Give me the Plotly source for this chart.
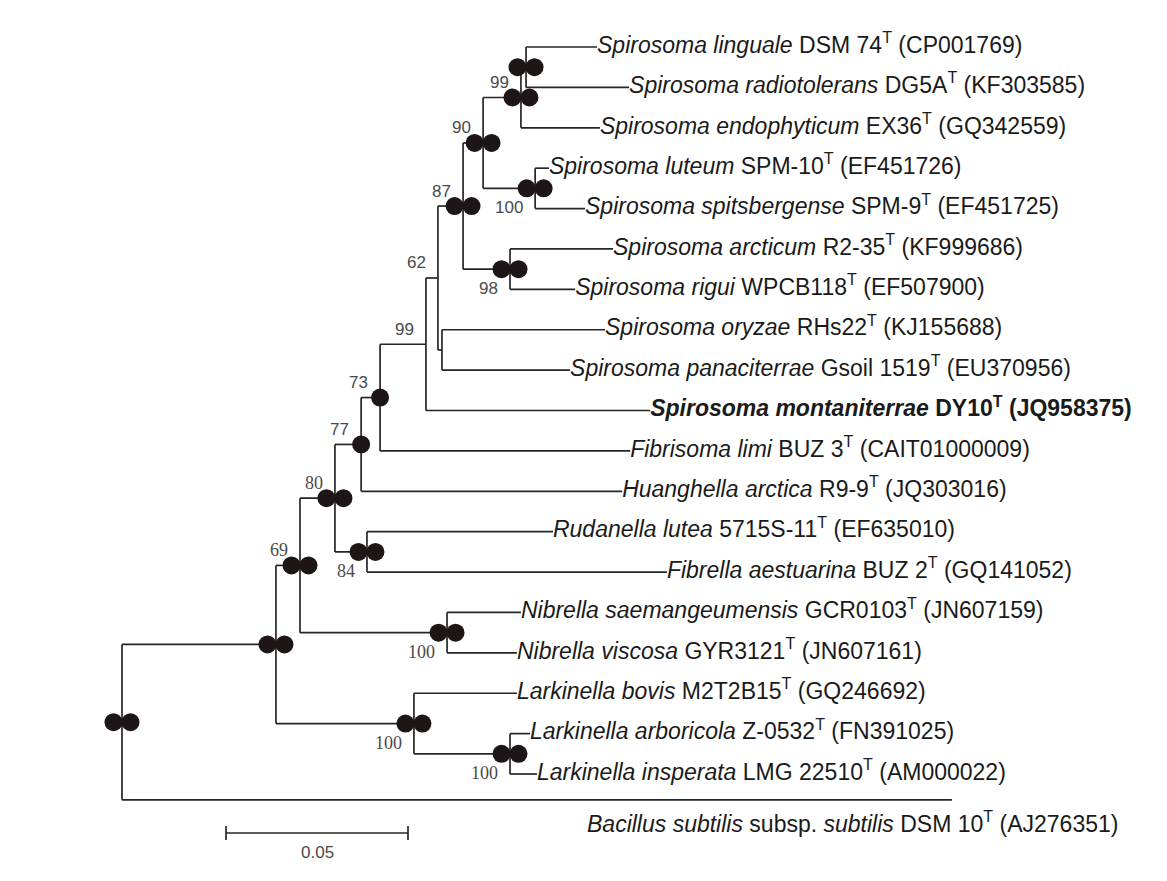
import plotly.graph_objects as go

# ---------------- data ----------------
taxa = [
    "<i>Spirosoma linguale</i> DSM 74<sup>T</sup> (CP001769)",
    "<i>Spirosoma radiotolerans</i> DG5A<sup>T</sup> (KF303585)",
    "<i>Spirosoma endophyticum</i> EX36<sup>T</sup> (GQ342559)",
    "<i>Spirosoma luteum</i> SPM-10<sup>T</sup> (EF451726)",
    "<i>Spirosoma spitsbergense</i> SPM-9<sup>T</sup> (EF451725)",
    "<i>Spirosoma arcticum</i> R2-35<sup>T</sup> (KF999686)",
    "<i>Spirosoma rigui</i> WPCB118<sup>T</sup> (EF507900)",
    "<i>Spirosoma oryzae</i> RHs22<sup>T</sup> (KJ155688)",
    "<i>Spirosoma panaciterrae</i> Gsoil 1519<sup>T</sup> (EU370956)",
    "<b><i>Spirosoma montaniterrae</i> DY10<sup>T</sup> (JQ958375)</b>",
    "<i>Fibrisoma limi</i> BUZ 3<sup>T</sup> (CAIT01000009)",
    "<i>Huanghella arctica</i> R9-9<sup>T</sup> (JQ303016)",
    "<i>Rudanella lutea</i> 5715S-11<sup>T</sup> (EF635010)",
    "<i>Fibrella aestuarina</i> BUZ 2<sup>T</sup> (GQ141052)",
    "<i>Nibrella saemangeumensis</i> GCR0103<sup>T</sup> (JN607159)",
    "<i>Nibrella viscosa</i> GYR3121<sup>T</sup> (JN607161)",
    "<i>Larkinella bovis</i> M2T2B15<sup>T</sup> (GQ246692)",
    "<i>Larkinella arboricola</i> Z-0532<sup>T</sup> (FN391025)",
    "<i>Larkinella insperata</i> LMG 22510<sup>T</sup> (AM000022)",
    "<i>Bacillus subtilis</i> subsp. <i>subtilis</i> DSM 10<sup>T</sup> (AJ276351)",
]
taxon_parent = ["A", "A", "B", "D", "D", "F", "F", "OP", "OP", "I",
                "J", "K", "M", "M", "N", "N", "Q", "P", "P", "root"]
taxon_length = [0.0195, 0.0283, 0.0217, 0.0038, 0.0137, 0.0283, 0.0179,
                0.0448, 0.0352, 0.0616, 0.0687, 0.0717, 0.0511, 0.0824,
                0.0203, 0.0192, 0.0283, 0.0055, 0.0074, 0.2280]

clade_names = ["R", "O", "L", "K", "J", "I", "H", "OP", "E", "C", "B", "A",
               "D", "F", "M", "N", "Q", "P"]
clade_parent = ["root", "R", "O", "L", "K", "J", "I", "H", "H", "E", "C", "B",
                "C", "E", "L", "O", "R", "Q"]
clade_length = [0.0423, 0.0066, 0.0096, 0.0072, 0.0052, 0.0126, 0.0033, 0.0011,
                0.0069, 0.0055, 0.0104, 0.0014, 0.0143, 0.0129, 0.0088, 0.0404,
                0.0379, 0.0264]
clade_support = ["", "69", "80", "77", "73", "99", "62", "", "87", "90", "99", "",
                 "100", "98", "84", "100", "100", "100"]

scale_length = 0.05
scale_label = "0.05"

# ---------------- style ----------------
W, H = 1167, 881
PAGE_OFFSET = 8          # default body margin of the html page
PX_PER_UNIT = 3640.0
ROOT_PX = 122 - PAGE_OFFSET
ROW_PX = 40.39
TOP_PX = 47 - PAGE_OFFSET
OUTGROUP_GAP = 0.64
double_dot = {"root", "R", "O", "L", "M", "N", "Q", "P", "E", "C", "B", "A", "D", "F"}
single_dot = {"J", "K"}
below_label = {"D", "F", "M", "N", "Q", "P"}
serif_label = {"O", "L", "M", "N", "Q", "P"}
LINE_COLOR = "#262626"
DOT_COLOR = "#1e1616"
LEAF_FONT = dict(family="Liberation Sans, Arial", size=23, color="#1a1a1a")

# ---------------- tree layout ----------------
parent = {}
length = {}
for n, p, l in zip(taxa, taxon_parent, taxon_length):
    parent[n], length[n] = p, l
for n, p, l in zip(clade_names, clade_parent, clade_length):
    parent[n], length[n] = p, l
children = {}
for n, p in parent.items():
    children.setdefault(p, []).append(n)

depth = {"root": 0.0}
def get_depth(n):
    if n not in depth:
        depth[n] = get_depth(parent[n]) + length[n]
    return depth[n]
for n in parent:
    get_depth(n)

ypos = {}
for i, t in enumerate(taxa):
    ypos[t] = i if i < len(taxa) - 1 else (len(taxa) - 2) + OUTGROUP_GAP
def get_y(n):
    if n not in ypos:
        ys = [get_y(c) for c in children[n]]
        ypos[n] = (min(ys) + max(ys)) / 2.0
    return ypos[n]
get_y("root")

bx, by = [], []
for n in parent:
    bx += [depth[parent[n]], depth[n], None]
    by += [ypos[n], ypos[n], None]
for n, ch in children.items():
    ys = [ypos[c] for c in ch]
    bx += [depth[n], depth[n], None]
    by += [min(ys), max(ys), None]

fig = go.Figure()
fig.add_trace(go.Scatter(x=bx, y=by, mode="lines",
                         line=dict(color=LINE_COLOR, width=1.7),
                         hoverinfo="skip", showlegend=False))

# dots
off = 8.5 / PX_PER_UNIT
dx, dy = [], []
for n in ["root"] + clade_names:
    if n in double_dot:
        dx += [depth[n] - off, depth[n] + off]
        dy += [ypos[n], ypos[n]]
    elif n in single_dot:
        dx.append(depth[n])
        dy.append(ypos[n])
fig.add_trace(go.Scatter(x=dx, y=dy, mode="markers",
                         marker=dict(color=DOT_COLOR, size=18, line=dict(width=0)),
                         hoverinfo="skip", showlegend=False))

# leaf labels
main_taxa = taxa[:-1]
fig.add_trace(go.Scatter(x=[depth[t] for t in main_taxa], y=[ypos[t] for t in main_taxa],
                         mode="text", text=main_taxa, textposition="middle right",
                         textfont=LEAF_FONT, hoverinfo="skip", showlegend=False))

annotations = []
out = taxa[-1]
annotations.append(dict(x=(585 - PAGE_OFFSET) / W, xref="paper", y=ypos[out], yref="y",
                        text=out, showarrow=False, xanchor="left", yanchor="middle",
                        yshift=-22, font=LEAF_FONT))

# support values
for n, s in zip(clade_names, clade_support):
    if not s:
        continue
    below = n in below_label
    annotations.append(dict(
        x=depth[n], y=ypos[n], text=s, showarrow=False,
        xanchor="right", yanchor="middle",
        xshift=-10, yshift=(-19 if below else 15),
        font=dict(family=("Liberation Serif" if n in serif_label else "Liberation Sans"),
                  size=18 if n in serif_label else 17, color="#4a4a4a")))

# scale bar
sb_x0 = (226 - PAGE_OFFSET - ROOT_PX) / PX_PER_UNIT
sb_y = (833 - PAGE_OFFSET - TOP_PX) / ROW_PX
tick = 7 / ROW_PX
shapes = [
    dict(type="line", x0=sb_x0, x1=sb_x0 + scale_length, y0=sb_y, y1=sb_y,
         line=dict(color=LINE_COLOR, width=1.7)),
    dict(type="line", x0=sb_x0, x1=sb_x0, y0=sb_y - tick, y1=sb_y + tick,
         line=dict(color=LINE_COLOR, width=1.7)),
    dict(type="line", x0=sb_x0 + scale_length, x1=sb_x0 + scale_length,
         y0=sb_y - tick, y1=sb_y + tick, line=dict(color=LINE_COLOR, width=1.7)),
]
annotations.append(dict(x=sb_x0 + scale_length / 2, y=sb_y, text=scale_label,
                        showarrow=False, yshift=-19, xanchor="center", yanchor="middle",
                        font=dict(family="Liberation Sans, Arial", size=17, color="#4a4a4a")))

fig.update_layout(
    width=W, height=H, margin=dict(l=0, r=0, t=0, b=0),
    paper_bgcolor="white", plot_bgcolor="white",
    xaxis=dict(range=[-ROOT_PX / PX_PER_UNIT, (W - ROOT_PX) / PX_PER_UNIT],
               visible=False, fixedrange=True),
    yaxis=dict(range=[(H - TOP_PX) / ROW_PX, -TOP_PX / ROW_PX],
               visible=False, fixedrange=True),
    shapes=shapes, annotations=annotations,
)
fig.write_html("out.html")
